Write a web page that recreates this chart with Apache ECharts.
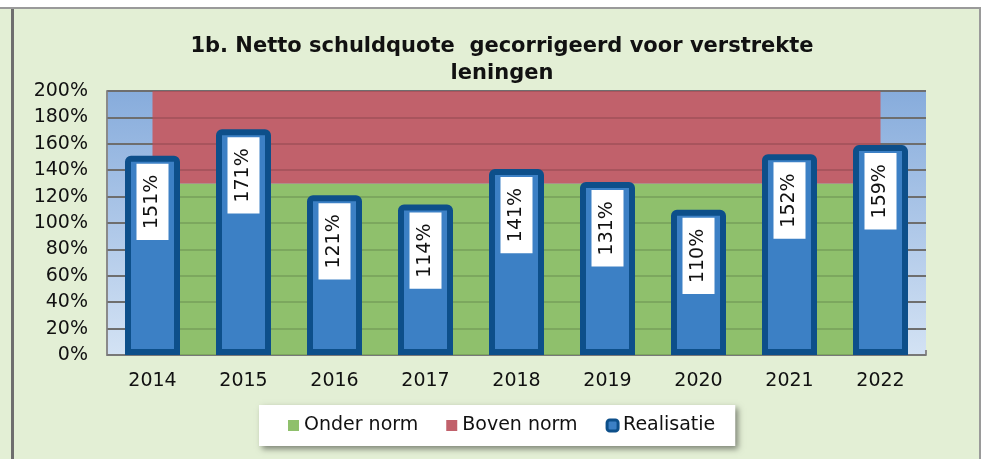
<!DOCTYPE html>
<html>
<head>
<meta charset="utf-8">
<script src="https://cdn.jsdelivr.net/npm/echarts@6/dist/echarts.min.js"></script>
<style>
  html, body { margin: 0; padding: 0; background: #fff; }
  #main { width: 985px; height: 459px; }
</style>
</head>
<body>
<div id="main"></div>
<script>
var years = ['2014', '2015', '2016', '2017', '2018', '2019', '2020', '2021', '2022'];
var realisatie = [151, 171, 121, 114, 141, 131, 110, 152, 159];
var onderNorm = [130, 130, 130, 130, 130, 130, 130, 130, 130];
var bovenNorm = [70, 70, 70, 70, 70, 70, 70, 70, 70];

var font = 'DejaVu Sans';
var myChart = echarts.init(document.getElementById('main'));

var option = {
    backgroundColor: '#e3efd5',
    textStyle: { fontFamily: font },
    graphic: [
        { type: 'rect', shape: { x: 0, y: 0, width: 985, height: 7 }, style: { fill: '#fff' }, z: 10 },
        { type: 'rect', shape: { x: 0, y: 7, width: 981, height: 2 }, style: { fill: '#9a9a9a' }, z: 10 },
        { type: 'rect', shape: { x: 981, y: 0, width: 4, height: 459 }, style: { fill: '#fff' }, z: 10 },
        { type: 'rect', shape: { x: 979, y: 7, width: 2, height: 452 }, style: { fill: '#9a9a9a' }, z: 10 },
        { type: 'rect', shape: { x: 11, y: 9, width: 3, height: 450 }, style: { fill: '#6e6e6e' }, z: 10 }
    ],
    title: {
        text: '1b. Netto schuldquote  gecorrigeerd voor verstrekte\nleningen',
        left: 497,
        top: 28,
        textAlign: 'center',
        textStyle: { fontFamily: font, fontSize: 21, fontWeight: 'bold', color: '#111', lineHeight: 27 }
    },
    legend: {
        left: 259,
        top: 405,
        backgroundColor: '#fff',
        padding: [11, 20, 11, 29],
        itemGap: 28,
        itemWidth: 11,
        itemHeight: 11,
        shadowBlur: 6,
        shadowColor: 'rgba(0,0,0,0.45)',
        shadowOffsetX: 3,
        shadowOffsetY: 3,
        textStyle: { fontFamily: font, fontSize: 19, color: '#111' },
        data: [
            { name: 'Onder norm', icon: 'rect' },
            { name: 'Boven norm', icon: 'rect' },
            { name: 'Realisatie', icon: 'roundRect', itemStyle: { borderWidth: 3 } }
        ]
    },
    grid: {
        left: 107,
        right: 59,
        top: 91,
        bottom: 104,
        show: true,
        borderWidth: 0,
        backgroundColor: new echarts.graphic.LinearGradient(0, 0, 0, 1, [
            { offset: 0, color: '#87acdc' },
            { offset: 1, color: '#d3e2f4' }
        ])
    },
    xAxis: {
        type: 'category',
        data: years,
        axisLine: { lineStyle: { color: '#8a8a8a', width: 2 } },
        axisTick: { show: true, inside: true, length: 5, lineStyle: { color: '#8a8a8a', width: 2 } },
        axisLabel: { fontFamily: font, fontSize: 19, color: '#111', margin: 17 }
    },
    yAxis: [{
        type: 'value',
        min: 0,
        max: 200,
        interval: 20,
        axisLine: { show: true, lineStyle: { color: '#8a8a8a', width: 2 } },
        axisTick: { show: false },
        splitLine: { lineStyle: { color: '#7f7f7f', width: 2 } },
        axisLabel: { fontFamily: font, fontSize: 19, color: '#111', margin: 19, formatter: '{value}%' }
    }, {
        type: 'value',
        position: 'left',
        min: 0,
        max: 200,
        interval: 20,
        z: 3,
        axisLine: { show: false },
        axisTick: { show: false },
        axisLabel: { show: false },
        splitLine: { lineStyle: { color: 'rgba(0,0,0,0.13)', width: 2 } }
    }],
    series: [{
        name: 'Onder norm',
        type: 'line',
        stack: 'norm',
        data: onderNorm,
        symbol: 'none',
        z: 2,
        color: '#8fc06c',
        lineStyle: { width: 0 },
        areaStyle: { color: '#8fc06c', opacity: 1 },
        silent: true
    }, {
        name: 'Boven norm',
        type: 'line',
        stack: 'norm',
        data: bovenNorm,
        symbol: 'none',
        z: 2,
        color: '#c1616b',
        lineStyle: { width: 0 },
        areaStyle: { color: '#c1616b', opacity: 1 },
        silent: true
    }, {
        name: 'Realisatie',
        type: 'bar',
        data: realisatie,
        barWidth: 55,
        z: 5,
        itemStyle: {
            color: '#3c80c5',
            borderColor: '#0d4f8a',
            borderWidth: 6,
            borderRadius: [3, 3, 0, 0]
        },
        label: {
            show: true,
            position: 'insideTop',
            distance: 8,
            rotate: 90,
            align: 'right',
            verticalAlign: 'middle',
            backgroundColor: '#fff',
            padding: [7, 11, 6, 11],
            fontFamily: font,
            fontSize: 19,
            color: '#111',
            formatter: '{c}%'
        }
    }]
};

myChart.setOption(option);
</script>
</body>
</html>
